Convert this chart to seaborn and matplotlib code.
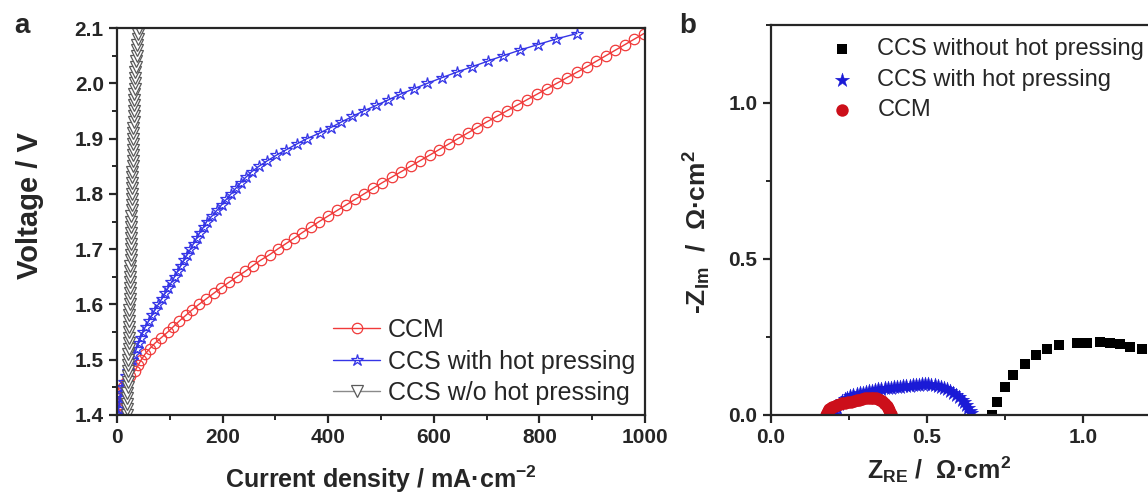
import matplotlib
matplotlib.use("Agg")
import matplotlib.pyplot as plt
import seaborn as sns
from matplotlib.ticker import MultipleLocator

# ---------------- Panel a data: polarization curves ----------------
voltage = [1.40, 1.41, 1.42, 1.43, 1.44, 1.45, 1.46, 1.47, 1.48, 1.49,
           1.50, 1.51, 1.52, 1.53, 1.54, 1.55, 1.56, 1.57, 1.58, 1.59,
           1.60, 1.61, 1.62, 1.63, 1.64, 1.65, 1.66, 1.67, 1.68, 1.69,
           1.70, 1.71, 1.72, 1.73, 1.74, 1.75, 1.76, 1.77, 1.78, 1.79,
           1.80, 1.81, 1.82, 1.83, 1.84, 1.85, 1.86, 1.87, 1.88, 1.89,
           1.90, 1.91, 1.92, 1.93, 1.94, 1.95, 1.96, 1.97, 1.98, 1.99,
           2.00, 2.01, 2.02, 2.03, 2.04, 2.05, 2.06, 2.07, 2.08, 2.09]
voltage_wo = voltage + [2.10]

ccm_current = [1, 2, 3, 5, 7, 11, 17, 25, 34, 40,
               46, 53, 62, 72, 84, 96, 107, 118, 130, 142,
               155, 169, 183, 197, 212, 227, 243, 257, 272, 289,
               304, 320, 336, 351, 367, 383, 400, 417, 434, 451,
               468, 485, 502, 520, 538, 556, 574, 592, 610, 628,
               646, 664, 682, 700, 719, 738, 757, 776, 795, 814,
               833, 852, 871, 890, 908, 926, 944, 962, 980, 998]

ccs_hp_current = [1, 3, 5, 7, 9, 11, 14, 17, 21, 25,
                  29, 33, 37, 41, 45, 49, 54, 60, 66, 72,
                  78, 85, 91, 97, 103, 109, 115, 121, 127, 133,
                  139, 145, 151, 157, 164, 170, 180, 189, 198, 207,
                  216, 225, 234, 244, 255, 269, 285, 302, 321, 340,
                  360, 384, 405, 425, 446, 467, 491, 514, 536, 562,
                  588, 615, 643, 673, 702, 732, 763, 797, 831, 871]

ccs_wo_current = [18, 18, 19, 19, 19, 20, 20, 20, 21, 21,
                  21, 21, 22, 22, 22, 22, 23, 23, 23, 23,
                  24, 24, 24, 24, 25, 25, 25, 25, 26, 26,
                  26, 26, 26, 27, 27, 27, 27, 28, 28, 28,
                  28, 29, 29, 29, 29, 30, 30, 30, 30, 31,
                  31, 31, 31, 32, 32, 32, 33, 33, 33, 34,
                  34, 35, 35, 36, 36, 37, 38, 38, 39, 40, 41]

# ---------------- Panel b data: Nyquist plots ----------------
wo_zre = [0.710, 0.724, 0.751, 0.778, 0.815, 0.850, 0.885, 0.924, 0.981,
          1.015, 1.055, 1.088, 1.120, 1.152, 1.189, 1.225, 1.262, 1.300]
wo_zim = [0.000, 0.043, 0.091, 0.128, 0.165, 0.192, 0.210, 0.224, 0.232,
          0.232, 0.235, 0.232, 0.227, 0.219, 0.210, 0.200, 0.189, 0.177]

hp_zre = [0.200, 0.205, 0.212, 0.220, 0.228, 0.237, 0.246, 0.255, 0.265, 0.275,
          0.285, 0.295, 0.305, 0.315, 0.325, 0.335, 0.345, 0.355, 0.365, 0.375,
          0.385, 0.395, 0.405, 0.415, 0.425, 0.435, 0.445, 0.455, 0.465, 0.475,
          0.485, 0.495, 0.505, 0.515, 0.525, 0.535, 0.545, 0.555, 0.565, 0.575,
          0.585, 0.595, 0.605, 0.613, 0.620, 0.627, 0.633, 0.638, 0.642]
hp_zim = [0.000, 0.012, 0.024, 0.035, 0.044, 0.051, 0.056, 0.060, 0.064, 0.067,
          0.070, 0.072, 0.074, 0.076, 0.078, 0.080, 0.082, 0.083, 0.085, 0.086,
          0.088, 0.089, 0.090, 0.091, 0.092, 0.093, 0.094, 0.095, 0.096, 0.097,
          0.098, 0.098, 0.098, 0.097, 0.096, 0.094, 0.091, 0.087, 0.083, 0.078,
          0.072, 0.065, 0.057, 0.049, 0.041, 0.032, 0.023, 0.014, 0.005]

ccm_zre = [0.178, 0.180, 0.183, 0.187, 0.192, 0.198, 0.205, 0.213, 0.221, 0.230,
           0.239, 0.248, 0.257, 0.266, 0.275, 0.284, 0.293, 0.302, 0.311, 0.320,
           0.328, 0.336, 0.343, 0.350, 0.356, 0.362, 0.367, 0.372, 0.376, 0.380,
           0.383, 0.385]
ccm_zim = [0.000, 0.006, 0.012, 0.018, 0.023, 0.027, 0.030, 0.033, 0.035, 0.037,
           0.039, 0.041, 0.043, 0.045, 0.047, 0.049, 0.051, 0.053, 0.054, 0.055,
           0.055, 0.054, 0.052, 0.049, 0.045, 0.040, 0.035, 0.029, 0.022, 0.015,
           0.008, 0.002]

# ---------------- Style ----------------
sns.set_style("ticks")
plt.rcParams["font.family"] = ["Liberation Sans", "DejaVu Sans"]
plt.rcParams["mathtext.fontset"] = "custom"
plt.rcParams["mathtext.rm"] = "Liberation Sans"
plt.rcParams["mathtext.bf"] = "Liberation Sans:bold"
plt.rcParams["axes.unicode_minus"] = False
plt.rcParams["axes.linewidth"] = 1.6

W, H = 1148, 495
fig = plt.figure(figsize=(W / 100, H / 100), dpi=100)
axa = fig.add_axes([117 / W, 80 / H, 528 / W, 387 / H])
axb = fig.add_axes([770.7 / W, 80 / H, 1.5 * 312 / W, 1.25 * 312 / H])

red = "#f03a3a"
blue = "#3535e6"
gray_edge = "#5a5a5a"
gray_line = "#8a8a8a"

# Panel a
sns.lineplot(x=ccm_current, y=voltage, ax=axa, sort=False, estimator=None,
             color=red, linewidth=1.0, marker="o", markersize=7.5,
             markerfacecolor="none", markeredgecolor=red, markeredgewidth=0.9,
             label="CCM")
sns.lineplot(x=ccs_hp_current, y=voltage, ax=axa, sort=False, estimator=None,
             color=blue, linewidth=1.0, marker="*", markersize=9,
             markerfacecolor="none", markeredgecolor=blue, markeredgewidth=0.9,
             label="CCS with hot pressing")
sns.lineplot(x=ccs_wo_current, y=voltage_wo, ax=axa, sort=False, estimator=None,
             color=gray_line, linewidth=1.0, marker="v", markersize=8,
             markerfacecolor="white", markeredgecolor=gray_edge, markeredgewidth=0.9,
             label="CCS w/o hot pressing")

axa.set_xlim(0, 1000)
axa.set_ylim(1.4, 2.1)
axa.xaxis.set_major_locator(MultipleLocator(200))
axa.xaxis.set_minor_locator(MultipleLocator(100))
axa.yaxis.set_major_locator(MultipleLocator(0.1))
axa.yaxis.set_minor_locator(MultipleLocator(0.05))
axa.set_yticklabels([f"{v:.1f}" for v in axa.get_yticks()])
axa.tick_params(which="major", direction="out", length=6, width=1.6,
                labelsize=15, top=False, right=False)
axa.tick_params(which="minor", direction="out", length=3.5, width=1.4,
                top=False, right=False)
for lab in axa.get_xticklabels() + axa.get_yticklabels():
    lab.set_fontweight("bold")
for s in axa.spines.values():
    s.set_visible(True)
    s.set_linewidth(1.6)

axa.set_xlabel(r"Current density / mA·cm$^{\mathbf{-2}}$", fontsize=18,
               fontweight="bold")
axa.set_ylabel("Voltage / V", fontsize=21, fontweight="bold")
axa.xaxis.set_label_coords(0.5, -0.125)
axa.yaxis.set_label_coords(-0.138, 0.54)

leg_a = axa.legend(loc="lower right", frameon=False, fontsize=18,
                   handlelength=1.9, handletextpad=0.3, labelspacing=0.3,
                   borderaxespad=0.0, borderpad=0.4, bbox_to_anchor=(1.0, 0.0))

# Panel b
sns.scatterplot(x=wo_zre, y=wo_zim, ax=axb, marker="s", s=55, color="black",
                linewidth=0, label="CCS without hot pressing")
sns.scatterplot(x=hp_zre, y=hp_zim, ax=axb, marker="*", s=115, color="#1a1ad6",
                linewidth=0.3, edgecolor="#1a1ad6", label="CCS with hot pressing")
sns.scatterplot(x=ccm_zre, y=ccm_zim, ax=axb, marker="o", s=80, color="#cc0f1a",
                linewidth=0, label="CCM")

axb.set_xlim(0, 1.5)
axb.set_ylim(0, 1.25)
axb.set_xticks([0.0, 0.5, 1.0])
axb.set_xticklabels(["0.0", "0.5", "1.0"])
axb.xaxis.set_minor_locator(MultipleLocator(0.25))
axb.set_yticks([0.0, 0.5, 1.0])
axb.set_yticklabels(["0.0", "0.5", "1.0"])
axb.yaxis.set_minor_locator(MultipleLocator(0.25))
axb.tick_params(which="major", direction="out", length=6, width=1.6,
                labelsize=15, top=False, right=False)
axb.tick_params(which="minor", direction="out", length=3.5, width=1.4,
                top=False, right=False)
for lab in axb.get_xticklabels() + axb.get_yticklabels():
    lab.set_fontweight("bold")
for s in axb.spines.values():
    s.set_visible(True)
    s.set_linewidth(1.6)

axb.set_xlabel(r"$\mathbf{Z_{RE}}$ /  Ω·cm$^{\mathbf{2}}$", fontsize=18,
               fontweight="bold")
axb.set_ylabel(r"-$\mathbf{Z_{Im}}$  /  Ω·cm$^{\mathbf{2}}$", fontsize=19,
               fontweight="bold")
axb.xaxis.set_label_coords(0.36, -0.1)
axb.yaxis.set_label_coords(-0.123, 0.47)

leg_b = axb.legend(loc="upper left", frameon=False, fontsize=17,
                   handlelength=1.0, handletextpad=1.0, labelspacing=0.36,
                   borderaxespad=0.0, bbox_to_anchor=(0.107, 0.99),
                   markerscale=1.0)

fig.text(14 / W, 1 - 26 / H, "a", fontsize=20, fontweight="bold", va="center")
fig.text(679 / W, 1 - 26 / H, "b", fontsize=20, fontweight="bold", va="center")

fig.savefig("out.png", dpi=100)
